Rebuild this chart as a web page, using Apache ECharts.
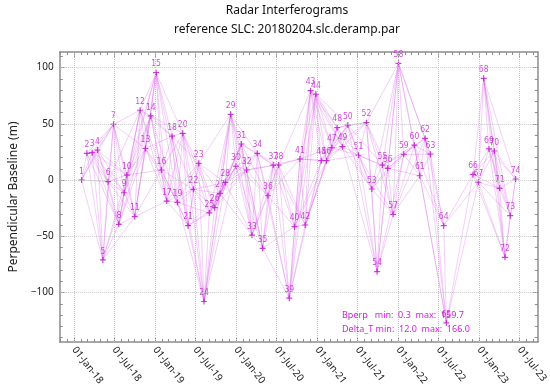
<!DOCTYPE html>
<html><head><meta charset="utf-8">
<script src="https://cdn.jsdelivr.net/npm/echarts@6/dist/echarts.min.js"></script>
<style>html,body{margin:0;padding:0;background:#fff}#c{width:550px;height:389px}</style>
</head><body><div id="c"></div>
<script>
// Acquisition dates (points 1..74)
const acqDates = [
 '2018-02-04','2018-02-28','2018-03-24','2018-04-17','2018-05-11','2018-06-04','2018-06-28','2018-07-22','2018-08-15','2018-08-27',
 '2018-10-02','2018-10-26','2018-11-19','2018-12-13','2019-01-06','2019-01-30','2019-02-23','2019-03-19','2019-04-12','2019-05-06',
 '2019-05-30','2019-06-23','2019-07-17','2019-08-10','2019-09-03','2019-09-27','2019-10-21','2019-11-14','2019-12-08','2020-01-01',
 '2020-01-25','2020-02-18','2020-03-13','2020-04-06','2020-04-30','2020-05-24','2020-06-17','2020-07-11','2020-08-28','2020-09-21',
 '2020-10-15','2020-11-08','2020-12-02','2020-12-26','2021-01-19','2021-02-12','2021-03-08','2021-04-01','2021-04-25','2021-05-19',
 '2021-07-06','2021-08-11','2021-09-04','2021-09-28','2021-10-22','2021-11-15','2021-12-09','2022-01-02','2022-01-26','2022-03-15',
 '2022-04-08','2022-05-02','2022-05-26','2022-07-25','2022-08-06','2022-12-04','2022-12-28','2023-01-21','2023-02-14','2023-03-10',
 '2023-04-03','2023-04-27','2023-05-21','2023-06-14'
];
// Perpendicular baseline (m)
const bperp = [
 0, 23.7, 24.3, 26.7, -71, -1.5, 49.5, -39.4, -11.3, 4.4,
 -32.6, 62, 28, 57, 95.4, 8.9, -18.7, 39, -19.9, 41.5,
 -40.6, -8.3, 14.8, -108, -29.3, -24.6, -11.9, -2.2, 58.4, 12.4,
 32, 8.9, -49, 23.7, -60.7, -14, 13.3, 13.3, -105, -41.5,
 18.7, -40, 79.4, 76.4, 17.2, 17.2, 28.7, 46.5, 29.6, 48.9,
 22, 51, -8, -81.5, 13.3, 10.4, -30.5, 103.7, 22.8, 31,
 3.8, 37, 23, -40.6, -127, 5, -2, 90.4, 27.6, 25.8,
 -7.4, -68.7, -31.7, 0.9
];
// Number of later acquisitions each point is paired with (interferograms)
const linksAhead = [
 6,6,7,6,6,6,6,6,6,6,
 6,6,6,6,6,6,6,6,6,6,
 6,6,6,6,6,6,6,6,6,6,
 6,6,5,5,5,5,5,5,6,6,
 6,6,6,6,5,5,5,5,5,5,
 6,6,6,5,5,5,5,5,4,5,
 4,3,2,3,2,6,6,6,5,4,
 3,2,1,0
];
const xTickDates = ['2018-01-01','2018-07-01','2019-01-01','2019-07-01','2020-01-01','2020-07-01',
                    '2021-01-01','2021-07-01','2022-01-01','2022-07-01','2023-01-01','2023-07-01'];
const yTicks = [-100, -50, 0, 50, 100];
const yMinorTicks = [-140,-130,-120,-110,-100,-90,-80,-70,-60,-50,-40,-30,-20,-10,0,10,20,30,40,50,60,70,80,90,100,110];
const titleText = 'Radar Interferograms';
const subtitleText = 'reference SLC: 20180204.slc.deramp.par';
const statsLine1 = 'Bperp   min:  0.3  max:  159.7';
const statsLine2 = 'Delta_T min:  12.0  max:  166.0';
const yName = 'Perpendicular Baseline (m)';

const X0 = Date.parse('2017-10-29'), X1 = Date.parse('2023-09-22');
const Y0 = -144, Y1 = 113.8;
const months = ['Jan','Feb','Mar','Apr','May','Jun','Jul','Aug','Sep','Oct','Nov','Dec'];
const xMajor = xTickDates.map(d => Date.parse(d));
const xMinor = [];
for (let y = 2017; y <= 2023; y++) for (let m = 0; m < 12; m++) {
  const t = Date.UTC(y, m, 1); if (t > X0 && t < X1) xMinor.push(t);
}
const ts = acqDates.map(d => Date.parse(d));
const pts = ts.map((t, i) => [t, bperp[i], i + 1]);
const edges = [];
for (let i = 0; i < ts.length; i++) {
  for (let m = 1; m <= linksAhead[i] && i + m < ts.length; m++) {
    edges.push({coords: [[ts[i], bperp[i]], [ts[i + m], bperp[i + m]]]});
  }
}
const frame = '#8c8c8c';
function xAx(pos, ticks, len, main, labels) {
  return {
    type: 'value', position: pos, min: X0, max: X1,
    axisLine: {show: main, onZero: false, lineStyle: {color: frame, width: 1.5}},
    axisTick: {show: true, inside: true, length: len, customValues: ticks, lineStyle: {color: frame, width: 1}},
    axisLabel: labels ? {show: true, customValues: xMajor, rotate: -52, margin: 6, fontSize: 10,
      fontFamily: 'Noto Sans', color: '#222',
      formatter: v => { const d = new Date(v); return String(d.getUTCDate()).padStart(2,'0') + '-' + months[d.getUTCMonth()] + '-' + String(d.getUTCFullYear()).slice(2); }
    } : {show: false},
    splitLine: {show: false}
  };
}
function yAx(pos, ticks, len, main, labels) {
  return {
    type: 'value', position: pos, min: Y0, max: Y1,
    name: labels ? yName : '', nameLocation: 'middle', nameGap: 33, nameRotate: 90,
    nameTextStyle: {fontSize: 12, fontFamily: 'Noto Sans', color: '#222'},
    axisLine: {show: main, onZero: false, lineStyle: {color: frame, width: 1.5}},
    axisTick: {show: true, inside: true, length: len, customValues: ticks, lineStyle: {color: frame, width: 1}},
    axisLabel: labels ? {show: true, customValues: yTicks, margin: 6, fontSize: 10, fontFamily: 'Noto Sans', color: '#222',
      formatter: v => (v < 0 ? '\u2212' + Math.abs(v) : String(v))} : {show: false},
    splitLine: {show: false}
  };
}
const chart = echarts.init(document.getElementById('c'), null, {renderer: 'canvas'});
chart.setOption({
  animation: false,
  backgroundColor: '#fff',
  grid: {left: 52, right: 8, top: 52, bottom: 47},
  xAxis: [xAx('bottom', xMajor, 5, true, true), xAx('bottom', xMinor, 3, false, false),
          xAx('top', xMajor, 5, true, false), xAx('top', xMinor, 3, false, false)],
  yAxis: [yAx('left', yTicks, 5, true, true), yAx('left', yMinorTicks, 3, false, false),
          yAx('right', yTicks, 5, true, false), yAx('right', yMinorTicks, 3, false, false)],
  graphic: [
    {type: 'text', x: 287, y: 11, style: {text: titleText, font: '12px "Noto Sans"', fill: '#111', align: 'center', verticalAlign: 'middle'}},
    {type: 'text', x: 287, y: 30, style: {text: subtitleText, font: '12px "Noto Sans"', fill: '#111', align: 'center', verticalAlign: 'middle'}},
    {type: 'text', x: 342, y: 315, z: 10, style: {text: statsLine1, font: '9px "Noto Sans"', fill: '#d020e0', align: 'left', verticalAlign: 'middle'}},
    {type: 'text', x: 342, y: 329, z: 10, style: {text: statsLine2, font: '9px "Noto Sans"', fill: '#d020e0', align: 'left', verticalAlign: 'middle'}}
  ],
  series: [
    {type: 'line', data: [], z: 1, silent: true,
     markLine: {silent: true, symbol: 'none', label: {show: false}, animation: false,
       lineStyle: {type: 'dotted', color: '#c4c4c4', width: 1},
       data: xMajor.map(t => ({xAxis: t})).concat(yTicks.map(v => ({yAxis: v})))}},
    {type: 'lines', coordinateSystem: 'cartesian2d', z: 2, silent: true,
     lineStyle: {color: 'rgba(215, 80, 232, 0.55)', width: 1, curveness: 0}, data: edges},
    {type: 'scatter', z: 3, data: pts, symbol: 'path://M4,0H6V4H10V6H6V10H4V6H0V4H4Z', symbolSize: 6,
     itemStyle: {color: '#c010d0'},
     label: {show: true, position: 'top', distance: 1, fontSize: 8.5, fontFamily: 'DejaVu Sans Condensed', color: '#c21bd0',
       formatter: p => String(p.value[2])}}
  ]
});
</script></body></html>
